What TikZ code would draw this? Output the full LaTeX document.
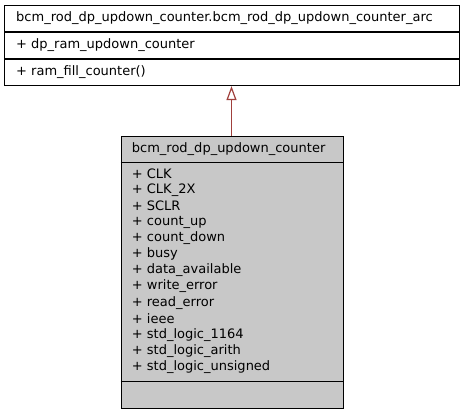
\documentclass[tikz,border=0pt]{standalone}
\usepackage{fontspec}
\setmainfont{DejaVu Sans}
\usetikzlibrary{arrows.meta}
\definecolor{boxgray}{RGB}{200,200,200}
\definecolor{arrowred}{RGB}{160,64,60}
\begin{document}
\begin{tikzpicture}[x=1pt,y=-1pt,
  umlbox/.style={draw=black,line width=1.1pt,inner sep=0pt,anchor=north west},
  txt/.style={inner sep=0pt,anchor=west,font=\fontsize{13}{15}\selectfont},
  inherit/.style={draw=arrowred,line width=1.2pt,-{Triangle[open,width=10pt,length=14pt]}}]
\useasboundingbox (0,0) rectangle (464,416);
% top class
\node[umlbox,minimum width=455pt,minimum height=80pt] (top) at (4,5) {};
\draw[line width=1.1pt] (4,32) -- (459,32) (4,59) -- (459,59);
\node[txt] (tname) at (16,18.5) {bcm\_rod\_dp\_updown\_counter.bcm\_rod\_dp\_updown\_counter\_arc};
\node[txt] (tattr) at (16,45.5) {+ dp\_ram\_updown\_counter};
\node[txt] (tmeth) at (16,72) {+ ram\_fill\_counter()};
% bottom class
\node[umlbox,fill=boxgray,minimum width=222pt,minimum height=272pt] (bot) at (120.7,135.7) {};
\draw[line width=1.1pt] (120.7,162.7) -- (342.7,162.7) (120.7,381.7) -- (342.7,381.7);
\node[txt] (bname) at (131.7,149.2) {bcm\_rod\_dp\_updown\_counter};
\foreach \t [count=\i from 0] in {CLK,CLK\_2X,SCLR,count\_up,count\_down,busy,data\_available,write\_error,read\_error,ieee,std\_logic\_1164,std\_logic\_arith,std\_logic\_unsigned}
  \node[txt] (battr\i) at (131.7,174+16.08*\i) {+ \t};
% inheritance
\draw[inherit] (bot.north -| 231.5,0) -- (top.south -| 231.5,0);
\end{tikzpicture}
\end{document}
